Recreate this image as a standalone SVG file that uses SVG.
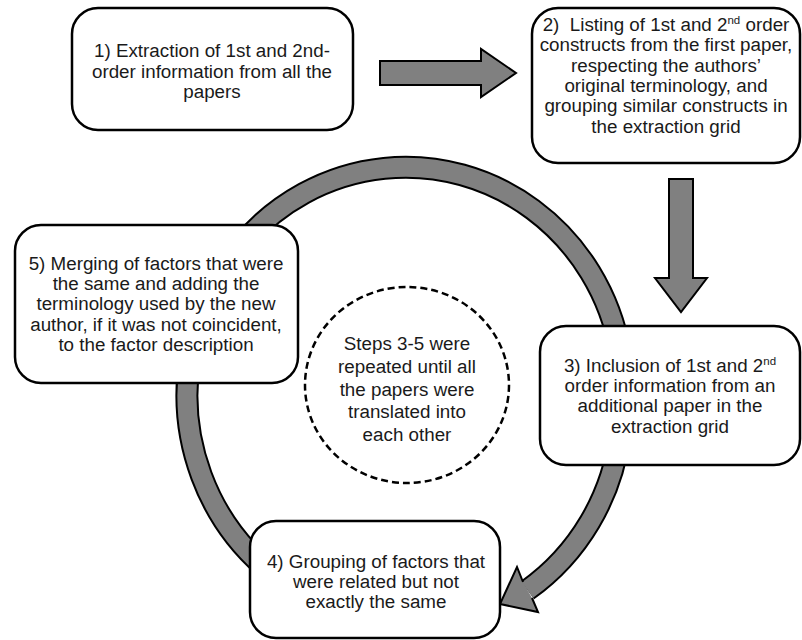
<svg xmlns="http://www.w3.org/2000/svg" width="802" height="640" viewBox="0 0 802 640">
<style>
.node{fill:#ffffff;stroke:#000000;stroke-width:2.5}
.arrow{fill:#808080;stroke:#000000;stroke-width:2;stroke-linejoin:miter}
.bandout{fill:none;stroke:#000000;stroke-width:23}
.bandin{fill:none;stroke:#808080;stroke-width:19}
.t{font-family:"Liberation Sans",Arial,Helvetica,sans-serif;font-size:18.8px;fill:#1a1a1a;text-anchor:middle}
.sup{font-size:11.5px}
</style>
<rect width="802" height="640" fill="#ffffff"/>
<g id="connectors">
  <polygon class="arrow" points="380,61 481,61 481,49 516,73 481,97 481,85 380,85"/>
  <polygon class="arrow" points="669,179 693,179 693,278 707,278 681,312 655,278 669,278"/>
  <path class="bandout" d="M 200,318 A 218 225 0 0 1 620,434"/>
  <path class="bandin" d="M 200,318 A 218 225 0 0 1 620,434"/>
  <path class="bandout" d="M 620,434 A 218 225 0 0 1 527.5,590"/>
  <path class="bandin" d="M 620,434 A 218 225 0 0 1 527.5,590"/>
  <path d="M 523,582 L 517,567 L 500,604 L 538,612 L 532,598 Z" fill="#808080"/>
  <path d="M 523,582 L 517,567 L 500,604 L 538,612 L 532,598" fill="none" stroke="#000000" stroke-width="2"/>
  <path class="bandout" d="M 270.7,572.3 A 218 225 0 0 1 190.3,356"/>
  <path class="bandin" d="M 270.7,572.3 A 218 225 0 0 1 190.3,356"/>
</g>
<g id="node1">
  <rect class="node" x="72" y="8" width="281" height="122" rx="26"/>
  <text class="t" x="212" y="57">1) Extraction of 1st and 2nd-</text>
  <text class="t" x="212" y="77.5">order information from all the</text>
  <text class="t" x="212" y="98">papers</text>
</g>
<g id="node2">
  <rect class="node" x="532" y="8" width="268" height="155" rx="26"/>
  <text class="t" x="666" y="31" xml:space="preserve">2)  Listing of 1st and 2<tspan class="sup" dy="-7">nd</tspan><tspan dy="7"> order</tspan></text>
  <text class="t" x="666" y="51.3">constructs from the first paper,</text>
  <text class="t" x="666" y="71.6">respecting the authors’</text>
  <text class="t" x="666" y="91.9">original terminology, and</text>
  <text class="t" x="666" y="112.2">grouping similar constructs in</text>
  <text class="t" x="666" y="132.5">the extraction grid</text>
</g>
<g id="node3">
  <rect class="node" x="540" y="326" width="260" height="139" rx="26"/>
  <text class="t" x="670" y="372">3) Inclusion of 1st and 2<tspan class="sup" dy="-7">nd</tspan></text>
  <text class="t" x="670" y="392.2">order information from an</text>
  <text class="t" x="670" y="412.4">additional paper in the</text>
  <text class="t" x="670" y="432.6">extraction grid</text>
</g>
<g id="node4">
  <rect class="node" x="250" y="521" width="250" height="117" rx="26"/>
  <text class="t" x="376" y="568">4) Grouping of factors that</text>
  <text class="t" x="376" y="588">were related but not</text>
  <text class="t" x="376" y="608">exactly the same</text>
</g>
<g id="node5">
  <rect class="node" x="15" y="225" width="283" height="158" rx="26"/>
  <text class="t" x="156" y="270">5) Merging of factors that were</text>
  <text class="t" x="156" y="290.2">the same and adding the</text>
  <text class="t" x="156" y="310.4">terminology used by the new</text>
  <text class="t" x="156" y="330.6">author, if it was not coincident,</text>
  <text class="t" x="156" y="350.8">to the factor description</text>
</g>
<g id="note">
  <ellipse cx="407" cy="385" rx="102" ry="98" fill="none" stroke="#000000" stroke-width="2.5" stroke-dasharray="7,4"/>
  <text class="t" x="407" y="350">Steps 3-5 were</text>
  <text class="t" x="407" y="372.8">repeated until all</text>
  <text class="t" x="407" y="395.6">the papers were</text>
  <text class="t" x="407" y="418.4">translated into</text>
  <text class="t" x="407" y="441.2">each other</text>
</g>
</svg>
